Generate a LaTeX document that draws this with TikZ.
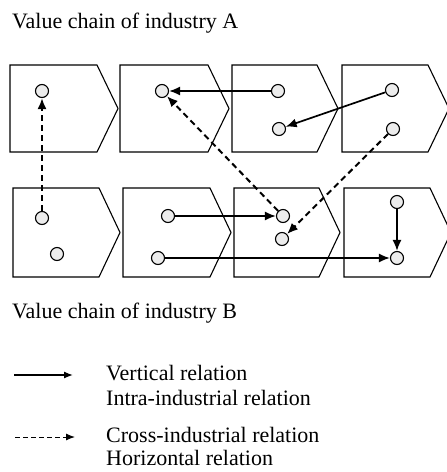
\documentclass[tikz,border=0pt]{standalone}
\usepackage{fontspec}
\setmainfont{Liberation Serif}
\usetikzlibrary{arrows.meta}
\newcommand\vchev[4]{%
  \draw[chev] (#1,#2) -- ({#1+#4},#2) -- ({#1+#4+21},{(#2+#3)/2}) -- ({#1+#4},#3) -- (#1,#3) -- cycle;}
\begin{document}
\begin{tikzpicture}[x=1pt,y=-1pt,
  chev/.style={draw=black,line width=1.1pt,line join=miter},
  dot/.style={circle,draw=black,line width=1.1pt,fill=gray!15,minimum size=13pt,inner sep=0pt},
  rel/.style={line width=1.7pt,-{Latex[length=11pt,width=9pt]}},
  crossrel/.style={rel,line width=2pt,dash pattern=on 6pt off 4pt},
  legsolid/.style={line width=1.3pt,-{Latex[length=9pt,width=7pt]}},
  legdash/.style={legsolid,line width=1pt,dash pattern=on 5pt off 3pt},
  title/.style={anchor=base west,inner sep=0pt,font=\fontsize{22}{26}\selectfont},
  lbl/.style={anchor=base west,inner sep=0pt,font=\fontsize{22}{26}\selectfont},
]
\useasboundingbox (0,0) rectangle (447,472);
% value chains
\vchev{10}{65}{152}{87}
\vchev{120}{65}{152}{88}
\vchev{232}{65}{152}{85}
\vchev{342}{65}{152}{86}
\vchev{13}{188}{277}{86}
\vchev{123}{188}{277}{87}
\vchev{234}{188}{277}{85}
\vchev{344}{188}{277}{86}
% activities
\node[dot] (A1) at (42,91) {};
\node[dot] (A2) at (162,91) {};
\node[dot] (A3t) at (278,91) {};
\node[dot] (A3b) at (279,129) {};
\node[dot] (A4t) at (392,90) {};
\node[dot] (A4b) at (393,129) {};
\node[dot] (B1t) at (42,218) {};
\node[dot] (B1b) at (57,254) {};
\node[dot] (B2t) at (168,216) {};
\node[dot] (B2b) at (158,258) {};
\node[dot] (B3t) at (283,216) {};
\node[dot] (B3b) at (282,239) {};
\node[dot] (B4t) at (397,202) {};
\node[dot] (B4b) at (397,258) {};
% relations
\draw[crossrel] (B1t) -- (A1);
\draw[rel] (A3t) -- (A2);
\draw[crossrel] (B3t) -- (A2);
\draw[rel] (A4t) -- (A3b);
\draw[crossrel] (A4b) -- (B3b);
\draw[rel] (B2t) -- (B3t);
\draw[rel] (B2b) -- (B4b);
\draw[rel] (B4t) -- (B4b);
% titles
\node[title] (tA) at (12,28) {Value chain of industry A};
\node[title] (tB) at (12,318) {Value chain of industry B};
% legend
\coordinate (s1) at (14,375);
\coordinate (s2) at (73,375);
\coordinate (d1) at (15,437);
\coordinate (d2) at (75,437);
\draw[legsolid] (s1) -- (s2);
\draw[legdash] (d1) -- (d2);
\node[lbl] (l1) at (106,380) {Vertical relation};
\node[lbl] (l2) at (106,405) {Intra-industrial relation};
\node[lbl] (l3) at (106,442) {Cross-industrial relation};
\node[lbl] (l4) at (106,465) {Horizontal relation};
\end{tikzpicture}
\end{document}
